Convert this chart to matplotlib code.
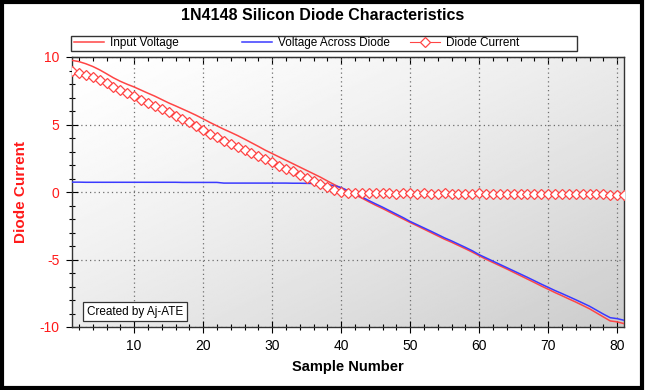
import matplotlib
matplotlib.use("Agg")
import matplotlib.pyplot as plt
import numpy as np
from matplotlib.patches import Rectangle
from matplotlib.ticker import MultipleLocator

samples = list(range(1, 82))

input_voltage = [
    9.75, 9.66, 9.5, 9.3, 9.05, 8.76, 8.46, 8.2, 7.98, 7.78,
    7.55, 7.32, 7.1, 6.85, 6.6, 6.38, 6.15, 5.92, 5.68, 5.42,
    5.15, 4.9, 4.65, 4.42, 4.18, 3.92, 3.65, 3.38, 3.1, 2.85,
    2.6, 2.35, 2.1, 1.85, 1.6, 1.35, 1.1, 0.82, 0.55, 0.3,
    0.05, -0.2, -0.45, -0.72, -0.98, -1.22, -1.48, -1.74, -2.0, -2.26,
    -2.5, -2.75, -3.0, -3.25, -3.5, -3.72, -3.96, -4.2, -4.45, -4.72,
    -4.98, -5.22, -5.46, -5.7, -5.95, -6.2, -6.45, -6.7, -6.96, -7.2,
    -7.45, -7.68, -7.92, -8.15, -8.4, -8.65, -8.95, -9.25, -9.55, -9.62,
    -9.75,
]

diode_voltage = [
    0.73, 0.73, 0.72, 0.72, 0.72, 0.72, 0.72, 0.72, 0.72, 0.72,
    0.72, 0.72, 0.72, 0.72, 0.72, 0.72, 0.71, 0.71, 0.71, 0.71,
    0.71, 0.71, 0.66, 0.66, 0.66, 0.66, 0.66, 0.66, 0.66, 0.66,
    0.66, 0.66, 0.65, 0.65, 0.64, 0.63, 0.6, 0.55, 0.47, 0.33,
    0.1, -0.12, -0.37, -0.63, -0.88, -1.12, -1.38, -1.64, -1.9, -2.18,
    -2.42, -2.66, -2.9, -3.15, -3.4, -3.62, -3.86, -4.1, -4.35, -4.64,
    -4.88, -5.12, -5.36, -5.6, -5.84, -6.08, -6.32, -6.57, -6.82, -7.06,
    -7.3, -7.52, -7.75, -7.98, -8.22, -8.46, -8.75, -9.04, -9.31, -9.38,
    -9.5,
]

diode_current = [
    8.95, 8.8, 8.65, 8.5, 8.3, 8.05, 7.8, 7.55, 7.3, 7.08,
    6.85, 6.6, 6.36, 6.12, 5.9, 5.66, 5.42, 5.18, 4.92, 4.6,
    4.32, 4.06, 3.8, 3.57, 3.34, 3.1, 2.88, 2.65, 2.43, 2.2,
    1.96, 1.74, 1.52, 1.28, 1.05, 0.82, 0.58, 0.35, 0.16, 0.03,
    -0.04, -0.08, -0.1, -0.09, -0.1, -0.11, -0.1, -0.12, -0.1, -0.11,
    -0.12, -0.11, -0.13, -0.12, -0.11, -0.13, -0.12, -0.14, -0.12, -0.11,
    -0.13, -0.14, -0.12, -0.13, -0.15, -0.14, -0.13, -0.15, -0.14, -0.15,
    -0.16, -0.14, -0.15, -0.17, -0.15, -0.16, -0.18, -0.17, -0.2, -0.22,
    -0.23,
]

x_major = [10, 20, 30, 40, 50, 60, 70, 80]
y_major = [-10, -5, 0, 5, 10]

RED = "#ff4545"
BLUE = "#3a3aff"
W, H = 650, 390

plt.rcParams["font.family"] = ["Liberation Sans", "DejaVu Sans"]
plt.rcParams["axes.unicode_minus"] = False

fig = plt.figure(figsize=(W / 100, H / 100), dpi=100)
ax = fig.add_axes([72 / W, 1 - 327 / H, (624 - 72) / W, (327 - 57) / H])

# gradient background inside the plot area
g = np.add.outer(np.linspace(0, 1, 200), np.linspace(0, 1, 200)) / 2
ax.imshow(1 - 0.2 * g ** 1.3, cmap="gray", vmin=0, vmax=1, extent=(0, 1, 0, 1),
          transform=ax.transAxes, aspect="auto", zorder=0, interpolation="bilinear")

l1, = ax.plot(samples, input_voltage, color=RED, lw=1.1, zorder=3)
l2, = ax.plot(samples, diode_voltage, color=BLUE, lw=1.1, zorder=3)
l3, = ax.plot(samples, diode_current, color=RED, lw=0.8, marker="D", ms=5.2,
              mfc="white", mec=RED, mew=0.9, zorder=4)

ax.set_xlim(1, 81)
ax.set_ylim(-10, 10)
ax.set_xticks(x_major)
ax.set_yticks(y_major)
ax.xaxis.set_minor_locator(MultipleLocator(2))
ax.yaxis.set_minor_locator(MultipleLocator(1))
ax.tick_params(which="major", direction="inout", length=8, width=0.8, labelsize=10, pad=5)
ax.tick_params(which="minor", direction="inout", length=5, width=0.8)
ax.tick_params(axis="y", labelcolor="#ff1a1a")
ax.grid(which="major", color="#6e6e6e", linestyle=(0, (1, 2.5)), lw=0.9, zorder=1)
for s in ax.spines.values():
    s.set_color("#333333")
    s.set_linewidth(1)

top = ax.secondary_xaxis("top")
top.set_xticks(x_major)
top.xaxis.set_minor_locator(MultipleLocator(2))
top.tick_params(which="major", direction="in", length=5, width=0.8, labeltop=False)
top.tick_params(which="minor", direction="in", length=3, width=0.8)

ax.set_xlabel("Sample Number", fontsize=10.5, fontweight="bold")
ax.xaxis.set_label_coords(0.5, -(360 - 327) / 270)
ax.set_ylabel("Diode Current", fontsize=11, fontweight="bold", color="#ff1a1a", va="center")
ax.yaxis.set_label_coords((21 - 72) / 552, 0.5)

ax.text((87 - 72) / 552, (327 - 311.5) / 270, "Created by Aj-ATE", transform=ax.transAxes,
        fontsize=8.5, va="center", ha="left", zorder=6,
        bbox=dict(boxstyle="square,pad=0.3", fc="white", ec="#333333", lw=0.9))

fig.text(0.497, 1 - 16 / H, "1N4148 Silicon Diode Characteristics", ha="center", va="center",
         fontsize=11.5, fontweight="bold")

# legend strip across the top
fig.add_artist(Rectangle((71 / W, 1 - 50.5 / H), 506 / W, 14.5 / H, transform=fig.transFigure,
                         fc="white", ec="#333333", lw=1))
for handle, label, x0 in [(l1, "Input Voltage", 74), (l2, "Voltage Across Diode", 242),
                          (l3, "Diode Current", 410)]:
    fig.legend(handles=[handle], labels=[label], loc="center left",
               bbox_to_anchor=(x0 / W, 1 - 43 / H), frameon=False, fontsize=8.5,
               handlelength=2.5, handletextpad=0.55, borderpad=0, borderaxespad=0,
               numpoints=1)

# outer frame
fig.add_artist(Rectangle((1.5 / W, 2.5 / H), 640 / W, 386 / H, transform=fig.transFigure,
                         fill=False, ec="black", lw=3))

fig.savefig("out.png", dpi=100)
